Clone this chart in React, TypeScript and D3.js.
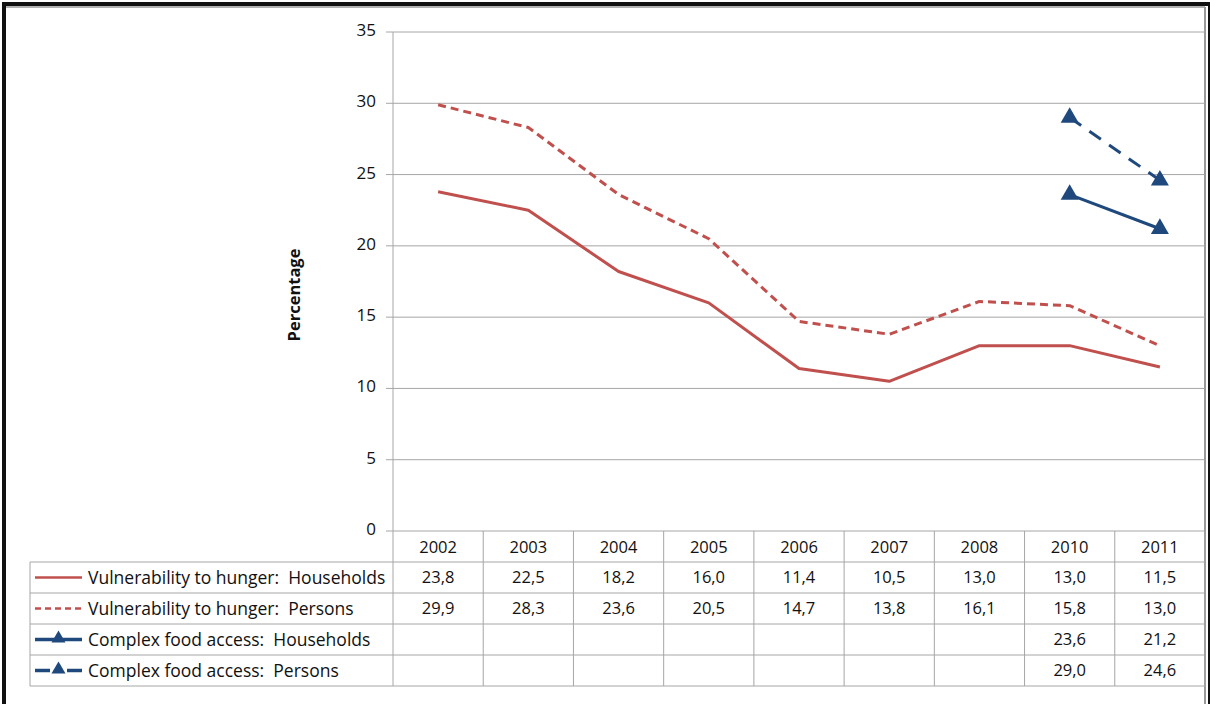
import React from "react";
import * as d3 from "d3";

const years = ["2002", "2003", "2004", "2005", "2006", "2007", "2008", "2010", "2011"];
const vulnHouseholds: (number | null)[] = [23.8, 22.5, 18.2, 16.0, 11.4, 10.5, 13.0, 13.0, 11.5];
const vulnPersons: (number | null)[] = [29.9, 28.3, 23.6, 20.5, 14.7, 13.8, 16.1, 15.8, 13.0];
const complexHouseholds: (number | null)[] = [null, null, null, null, null, null, null, 23.6, 21.2];
const complexPersons: (number | null)[] = [null, null, null, null, null, null, null, 29.0, 24.6];
const yTicks = [0, 5, 10, 15, 20, 25, 30, 35];

const seriesNames = [
  "Vulnerability to hunger:  Households",
  "Vulnerability to hunger:  Persons",
  "Complex food access:  Households",
  "Complex food access:  Persons",
];

const RED = "#C0504D";
const BLUE = "#1F497D";
const GRID = "#A6A6A6";
const FONT = "'Open Sans', 'Noto Sans', sans-serif";

type Series = { name: string; values: (number | null)[]; color: string; dash: string | null; marker: boolean };

const series: Series[] = [
  { name: seriesNames[0], values: vulnHouseholds, color: RED, dash: null, marker: false },
  { name: seriesNames[1], values: vulnPersons, color: RED, dash: "8,5", marker: false },
  { name: seriesNames[2], values: complexHouseholds, color: BLUE, dash: null, marker: true },
  { name: seriesNames[3], values: complexPersons, color: BLUE, dash: "14,10", marker: true },
];

const fmt = (v: number | null) => (v == null ? "" : v.toFixed(1).replace(".", ","));

export default function App() {
  const W = 1210, H = 704;
  const plotL = 393, plotR = 1205, plotT = 32, plotB = 531;
  const rowH = 31;
  const legendL = 30;
  const x = d3.scaleBand<string>().domain(years).range([plotL, plotR]).paddingInner(0).paddingOuter(0);
  const y = d3.scaleLinear().domain([0, 35]).range([plotB, plotT]);
  const cx = (yr: string) => (x(yr) as number) + x.bandwidth() / 2;

  const line = d3
    .line<{ yr: string; v: number | null }>()
    .defined((d) => d.v != null)
    .x((d) => cx(d.yr))
    .y((d) => y(d.v as number))
    .curve(d3.curveLinear);

  const tri = d3.symbol().type(d3.symbolTriangle).size(140)();
  const triSmall = d3.symbol().type(d3.symbolTriangle).size(85)();

  const tableTop = plotB;
  const rowsTop = tableTop + rowH;
  const tableBottom = rowsTop + rowH * 4;
  const fs = 16.5;

  return (
    <svg width={W} height={H} style={{ position: "absolute", left: 0, top: 0, background: "#fff" }} fontFamily={FONT}>
      <rect x={0} y={0} width={W} height={H} fill="#fff" />
      {/* outer frame */}
      <rect x={4} y={4} width={1206} height={720} fill="none" stroke="#111" strokeWidth={4} />
      <line x1={6} x2={1205} y1={7} y2={7} stroke="#999" strokeWidth={1.5} />
      <line x1={1205} x2={1205} y1={7} y2={H} stroke="#999" strokeWidth={2} />

      {/* horizontal gridlines */}
      {yTicks.map((t) => (
        <g key={t}>
          {t > 0 && <line x1={plotL} x2={plotR} y1={y(t)} y2={y(t)} stroke={GRID} strokeWidth={1} />}
          <line x1={386} x2={plotL} y1={y(t)} y2={y(t)} stroke={GRID} strokeWidth={1} />
          <text x={376} y={y(t) - 2} dy="0.35em" textAnchor="end" fontSize={17} fill="#111">
            {t}
          </text>
        </g>
      ))}
      {/* y axis */}
      <line x1={plotL} x2={plotL} y1={plotT} y2={tableBottom} stroke={GRID} strokeWidth={1} />
      <text
        transform={`translate(300, 295) rotate(-90)`}
        textAnchor="middle"
        fontSize={16.5}
        fontWeight="bold"
        fill="#111"
      >
        Percentage
      </text>

      {/* table */}
      <line x1={plotL} x2={plotR} y1={tableTop} y2={tableTop} stroke={GRID} strokeWidth={1} />
      {[0, 1, 2, 3, 4].map((i) => (
        <line key={i} x1={legendL} x2={plotR} y1={rowsTop + i * rowH} y2={rowsTop + i * rowH} stroke={GRID} strokeWidth={1} />
      ))}
      <line x1={legendL} x2={legendL} y1={rowsTop} y2={tableBottom} stroke={GRID} strokeWidth={1} />
      {years.map((yr) => (
        <line
          key={yr}
          x1={(x(yr) as number) + x.bandwidth()}
          x2={(x(yr) as number) + x.bandwidth()}
          y1={tableTop}
          y2={tableBottom}
          stroke={GRID}
          strokeWidth={1}
        />
      ))}
      {years.map((yr) => (
        <text key={yr} x={cx(yr)} y={tableTop + rowH / 2 + 1} dy="0.35em" textAnchor="middle" fontSize={fs} fill="#111">
          {yr}
        </text>
      ))}
      {series.map((s, i) => {
        const ry = rowsTop + i * rowH + rowH / 2;
        return (
          <g key={s.name}>
            {s.marker && s.dash ? (
              <>
                <line x1={35} x2={50} y1={ry} y2={ry} stroke={s.color} strokeWidth={3.5} />
                <line x1={67} x2={82} y1={ry} y2={ry} stroke={s.color} strokeWidth={3.5} />
              </>
            ) : (
              <line
                x1={35}
                x2={82}
                y1={ry}
                y2={ry}
                stroke={s.color}
                strokeWidth={s.marker ? 3.5 : 2.5}
                strokeDasharray={s.dash ? "6,4" : undefined}
              />
            )}
            {s.marker && <path d={triSmall} transform={`translate(58.5, ${ry - 1})`} fill={s.color} />}
            <text x={88} y={ry} dy="0.35em" fontSize={17.5} fill="#111" style={{ whiteSpace: "pre" }}>
              {s.name}
            </text>
            {s.values.map((v, j) => (
              <text key={j} x={cx(years[j])} y={ry} dy="0.35em" textAnchor="middle" fontSize={fs} fill="#111">
                {fmt(v)}
              </text>
            ))}
          </g>
        );
      })}

      {/* series lines */}
      {series.map((s) => {
        const data = years.map((yr, j) => ({ yr, v: s.values[j] }));
        return (
          <g key={s.name}>
            <path
              d={line(data) || ""}
              fill="none"
              stroke={s.color}
              strokeWidth={3}
              strokeDasharray={s.dash || undefined}
              strokeLinejoin="round"
            />
            {s.marker &&
              data
                .filter((d) => d.v != null)
                .map((d) => (
                  <path key={d.yr} d={tri} transform={`translate(${cx(d.yr)}, ${y(d.v as number)})`} fill={s.color} />
                ))}
          </g>
        );
      })}
    </svg>
  );
}
